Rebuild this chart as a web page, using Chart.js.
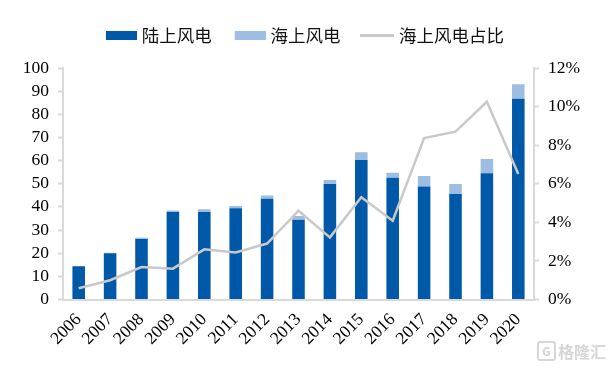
<!DOCTYPE html>
<html>
<head>
<meta charset="utf-8">
<script src="https://cdn.jsdelivr.net/npm/chart.js@4/dist/chart.umd.min.js"></script>
<style>
body { margin: 0; background: #fff; }
#wrap { position: relative; width: 611px; height: 368px; }
#mark { position: absolute; left: 537px; top: 341px; color: #d6d6d6; font: bold 16px "Noto Sans CJK SC"; line-height: 20px; white-space: nowrap; }
#mark b { display: inline-block; width: 15px; height: 16px; line-height: 16px; border: 2px solid #d6d6d6; border-radius: 3px; text-align: center; font-size: 12px; margin-right: 2px; vertical-align: top; }
</style>
</head>
<body>
<div id="wrap">
<canvas id="graphic" width="611" height="368"></canvas>
<div id="mark"><b>G</b>格隆汇</div>
</div>
<script>
// 数据
var years = ['2006','2007','2008','2009','2010','2011','2012','2013','2014','2015','2016','2017','2018','2019','2020'];
var onshore = [14.4, 20, 26.1, 37.8, 37.8, 39.4, 43.5, 34.5, 49.9, 60.3, 52.6, 48.8, 45.6, 54.5, 86.7];
var offshore = [0.1, 0.2, 0.6, 0.6, 1.2, 1.0, 1.4, 1.6, 1.7, 3.3, 2.1, 4.5, 4.3, 6.2, 6.3];
var share = [0.58, 1.0, 1.68, 1.6, 2.6, 2.44, 2.9, 4.6, 3.22, 5.3, 4.08, 8.37, 8.7, 10.25, 6.5];

var axisGray = '#d9d9d9';

var ctx = document.getElementById('graphic').getContext('2d');

// 图例色块 (比文字间距更宽，所以用小画布)
function swatch(color, height, leftGap) {
    var c = document.createElement('canvas');
    c.width = 34;
    c.height = height;
    var g = c.getContext('2d');
    g.fillStyle = color;
    g.fillRect(leftGap, 0, 34 - leftGap, height);
    return c;
}

var datos = {
    labels: years,
    datasets: [{
        label: '陆上风电',
        data: onshore,
        backgroundColor: '#0058a9',
        stack: 'wind',
        yAxisID: 'y',
        order: 1,
        barPercentage: 0.4,
        categoryPercentage: 1
    }, {
        label: '海上风电',
        data: offshore,
        backgroundColor: '#9dbde2',
        stack: 'wind',
        yAxisID: 'y',
        order: 2,
        barPercentage: 0.4,
        categoryPercentage: 1
    }, {
        type: 'line',
        label: '海上风电占比',
        data: share,
        borderColor: '#c9c9c9',
        backgroundColor: '#c9c9c9',
        borderWidth: 2.5,
        pointRadius: 0,
        tension: 0,
        yAxisID: 'y1',
        order: 0
    }]
};

// 图例下方留白
var legendGap = {
    id: 'legendGap',
    beforeInit: function (chart) {
        var fit = chart.legend.fit;
        chart.legend.fit = function () {
            fit.call(this);
            this.height += 14;
        };
    }
};

var opciones = {
    responsive: false,
    animation: false,
    layout: { padding: { top: 2.5 } },
    plugins: {
        tooltip: { enabled: false },
        legend: {
            position: 'top',
            labels: {
                usePointStyle: true,
                pointStyleWidth: 26,
                boxHeight: 10,
                padding: 24,
                color: '#111',
                font: { family: 'Noto Sans CJK SC', size: 17.5 },
                generateLabels: function (chart) {
                    return chart.data.datasets.map(function (ds, i) {
                        var isLine = ds.type === 'line';
                        return {
                            text: ds.label,
                            datasetIndex: i,
                            fillStyle: ds.backgroundColor,
                            strokeStyle: 'transparent',
                            lineWidth: 0,
                            pointStyle: isLine ? swatch(ds.borderColor, 3, 0) : swatch(ds.backgroundColor, 9, 3),
                            fontColor: '#111'
                        };
                    });
                }
            }
        }
    },
    scales: {
        x: {
            stacked: true,
            grid: { display: false },
            border: { color: axisGray, width: 2 },
            ticks: { font: { family: 'Liberation Serif', size: 17.5 }, color: '#000', minRotation: 45, maxRotation: 45, padding: 2, autoSkip: false },
            afterFit: function (scale) { scale.height = 68.5; scale.paddingLeft = 0; scale.paddingRight = 0; }
        },
        y: {
            stacked: true,
            position: 'left',
            min: 0,
            max: 100,
            ticks: { stepSize: 10, autoSkip: false, font: { family: 'Liberation Serif', size: 17.5 }, color: '#000', padding: 9 },
            grid: { drawOnChartArea: false, color: axisGray, tickLength: 5, tickWidth: 2 },
            border: { color: axisGray, width: 2 },
            afterFit: function (scale) { scale.width = 63; }
        },
        y1: {
            position: 'right',
            min: 0,
            max: 12,
            ticks: { stepSize: 2, autoSkip: false, font: { family: 'Liberation Serif', size: 17.5 }, color: '#000', padding: 9, callback: function (v) { return v + '%'; } },
            grid: { drawOnChartArea: false, color: axisGray, tickLength: 5, tickWidth: 2 },
            border: { color: axisGray, width: 2 },
            afterFit: function (scale) { scale.width = 77; }
        }
    }
};

var miGrafico = new Chart(ctx, {
    type: 'bar',
    data: datos,
    options: opciones,
    plugins: [legendGap]
});
</script>
</body>
</html>
